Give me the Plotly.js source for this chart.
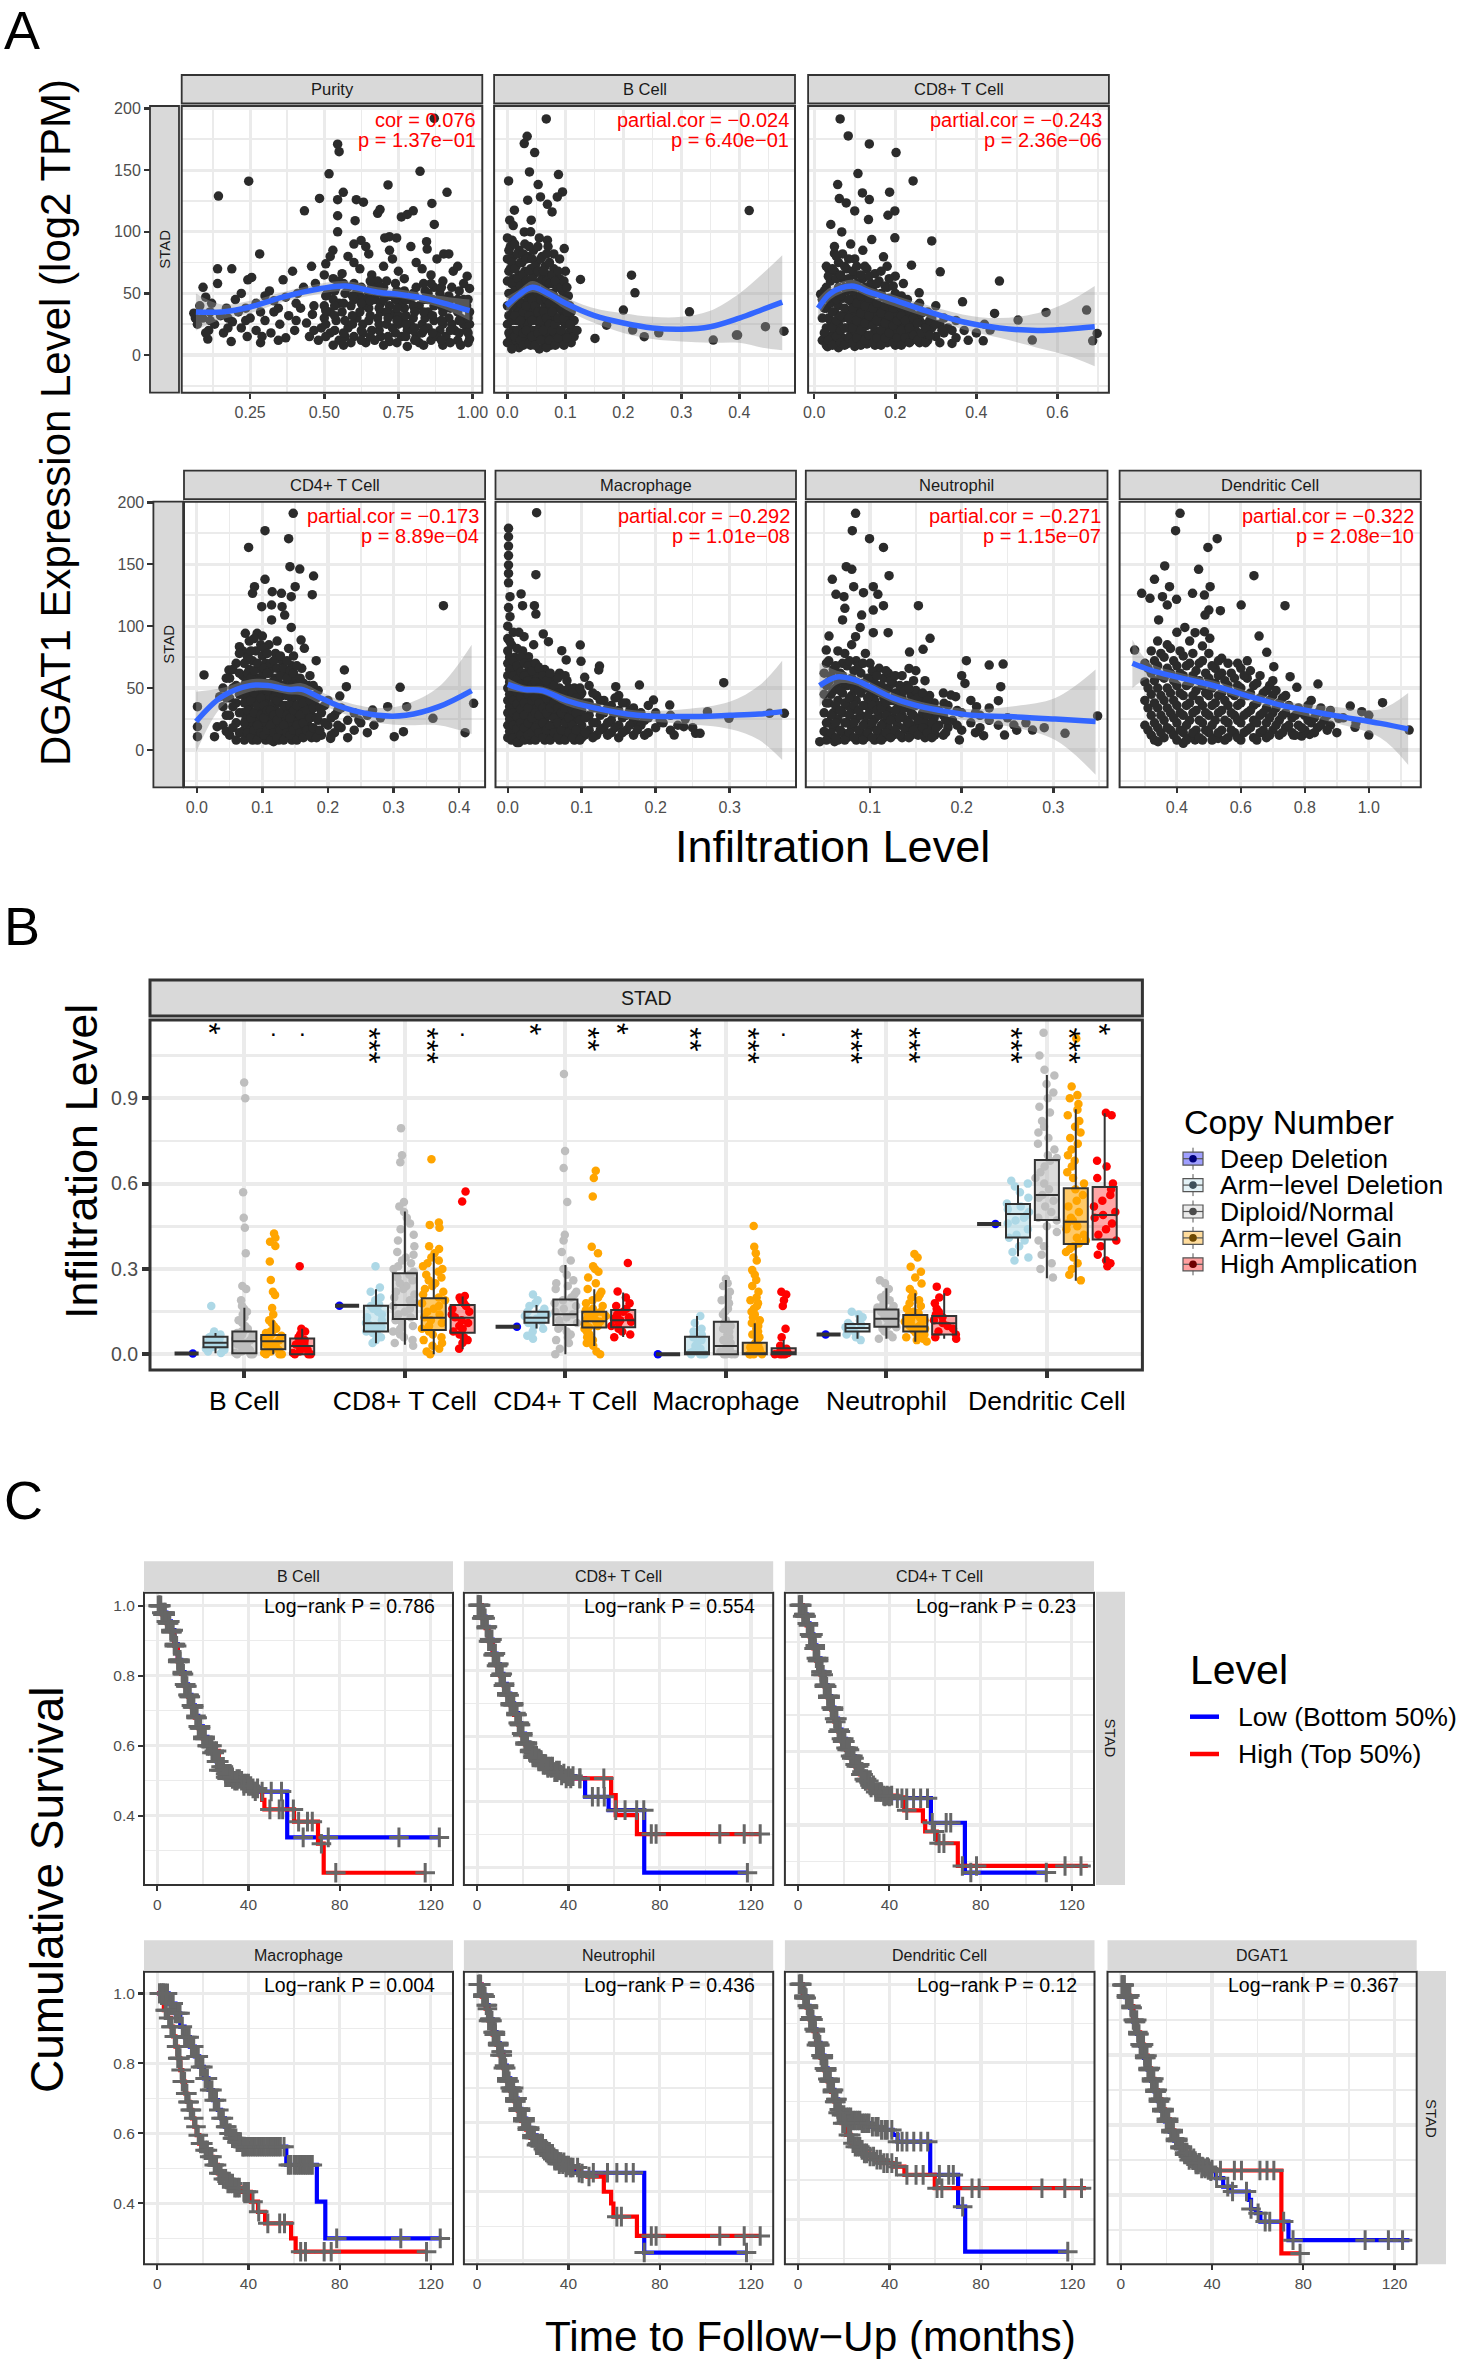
<!DOCTYPE html>
<html>
<head>
<meta charset="utf-8">
<script src="https://cdn.plot.ly/plotly-3.0.1.min.js"></script>
<style>html,body{margin:0;padding:0;background:#fff;}#chart{width:1459px;height:2359px;}</style>
</head>
<body>
<div id="chart"></div>
<script>
// ======================= DATA =======================
// ---------- Panel A : DGAT1 expression vs infiltration level (STAD) ----------
const aPanelNames = ['Purity','B Cell','CD8+ T Cell','CD4+ T Cell','Macrophage','Neutrophil','Dendritic Cell'];
const aCorLabels = ['cor = 0.076','partial.cor = −0.024','partial.cor = −0.243','partial.cor = −0.173','partial.cor = −0.292','partial.cor = −0.271','partial.cor = −0.322'];
const aPLabels = ['p = 1.37e−01','p = 6.40e−01','p = 2.36e−06','p = 8.89e−04','p = 1.01e−08','p = 1.15e−07','p = 2.08e−10'];

// points as [infiltration, expression] pairs, and dense columns as [infiltration, [expressions]]
const ptsPurity = [[0.871,192],[0.545,171],[0.55,165],[0.245,141],[0.143,129],[0.516,147],[0.823,149],[0.715,138],[0.914,132],[0.484,127],[0.545,126],[0.564,132],[0.608,126],[0.632,124],[0.433,117],[0.545,113],[0.604,109],[0.68,115],[0.688,118],[0.76,112],[0.78,114],[0.8,117],[0.863,123],[0.871,106],[0.545,100],[0.624,93],[0.64,88],[0.704,95],[0.72,96],[0.744,95],[0.792,88],[0.847,86],[0.903,82],[0.92,82],[0.282,82],[0.457,72],[0.505,74],[0.529,85],[0.52,80],[0.393,68],[0.14,70],[0.188,70],[0.242,61],[0.255,63],[0.091,55],[0.14,58],[0.22,50],[0.315,52],[0.361,61],[0.982,64],[0.99,54],[0.935,68],
[0.58,80],[0.6,75],[0.62,70],[0.65,82],[0.66,65],[0.7,72],[0.73,78],[0.75,68],[0.77,62],[0.81,75],[0.83,70],[0.86,65],[0.88,78],[0.9,60],[0.95,72],[0.97,58],[0.56,66],[0.53,62],[0.68,60],[0.72,85],[0.845,92],[0.6,90],[0.5,65],[0.47,58],[0.43,55],[0.41,50],[0.37,47],[0.33,44],[0.3,48],[0.27,42],[0.2,45],[0.17,38],[0.12,42],[0.1,47],[0.08,40],[0.065,30],
[0.09,30],[0.11,20],[0.107,13],[0.13,25],[0.15,32],[0.16,18],[0.186,11],[0.19,27],[0.21,35],[0.22,22],[0.24,15],[0.25,30],[0.27,20],[0.29,15],[0.3,28],[0.32,18],[0.33,35],[0.35,25],[0.37,14],[0.38,32],[0.4,20],[0.42,38],[0.44,26],[0.45,15],[0.46,33],[0.48,12],[0.49,22],[0.5,40],[0.5,30],
[0.52,18],[0.53,45],[0.54,28],[0.55,12],[0.56,35],[0.57,50],[0.58,22],[0.59,40],[0.6,15],[0.61,30],[0.62,48],[0.63,25],[0.64,10],[0.65,38],[0.66,20],[0.67,45],[0.68,30],[0.69,15],[0.7,55],[0.71,25],[0.72,11],[0.72,40],[0.73,33],[0.74,18],[0.75,48],[0.76,28],[0.77,38],[0.78,7],[0.78,20],[0.79,45],[0.8,30],[0.81,15],[0.82,40],[0.83,25],[0.84,52],[0.85,35],[0.86,12],[0.87,28],[0.88,44],[0.89,20],[0.9,35],[0.91,15],[0.92,48],[0.93,25],[0.94,38],[0.95,12],[0.96,30],[0.96,8],[0.97,45],[0.98,20],[0.99,13],[0.99,35],[0.53,8],[0.57,15],[0.61,52],[0.66,55],[0.74,58],[0.8,50],[0.87,55],[0.92,30],[0.63,40],[0.69,35],[0.76,42],[0.83,18],[0.9,8],[0.58,55],[0.7,8],[0.85,22],[0.06,34],[0.072,25],[0.1,18],
[0.51,50],[0.52,35],[0.54,55],[0.55,42],[0.57,28],[0.59,10],[0.6,58],[0.62,35],[0.63,18],[0.64,45],[0.65,28],[0.67,12],[0.68,50],[0.69,42],[0.71,35],[0.71,60],[0.73,22],[0.74,45],[0.75,32],[0.76,15],[0.77,52],[0.79,25],[0.8,40],[0.81,55],[0.82,10],[0.84,30],[0.85,45],[0.86,58],[0.87,40],[0.88,15],[0.89,50],[0.9,25],[0.91,42],[0.93,55],[0.94,20],[0.95,45],[0.97,25],[0.98,40],[0.99,25],[0.55,60],[0.6,45],[0.65,50],[0.7,45],[0.75,25],[0.8,20],[0.85,50],[0.9,45],[0.95,35]];
const colsPurity = [[0.505,[15,25,36,48]],[0.535,[20,32,40,52]],[0.565,[8,18,42,58]],[0.595,[25,32,48]],[0.625,[12,20,42,55]],[0.655,[15,32,44,60]],[0.685,[20,25,38,55]],[0.715,[15,30,48]],[0.745,[10,28,38,52]],[0.775,[15,25,32,45]],[0.805,[12,22,35,48]],[0.835,[8,20,35,45,58]],[0.865,[18,32,45]],[0.895,[12,28,40,55]],[0.925,[10,20,38,45]],[0.955,[18,28,40,52]],[0.985,[10,18,30,45]],[0.115,[28,35]],[0.175,[22,30]],[0.235,[28,38]],[0.285,[10,35]],[0.345,[12,38]],[0.405,[28,42]],[0.465,[20,40]]];

const ptsBCell = [[0.067,191.5],[0.034,177.4],[0.029,171.5],[0.047,164.2],[0.038,148.5],[0.088,146.4],[0.002,141.2],[0.053,138.3],[0.095,132.3],[0.035,125.6],[0.057,128.3],[0.069,122.3],[0.086,128.3],[0.012,117.5],[0.004,109.4],[0.077,116.1],[0.041,109.4],[0.029,99.9],[0.069,93.2],[0.098,86.4],[0.008,93.2],[0.126,61.3],[0.214,64.8],[0.22,50.5],[0.2,36.5],[0.314,35.1],[0.171,24.3],[0.216,20.3],[0.236,14.9],[0.261,18.1],[0.151,13.5],[0.355,12.2],[0.395,16.2],[0.417,117.2],[0.397,16.2],[0.445,23],[0.477,19.4]];
const colsBCell = [[0.0,[10,25,40,60,78,95]],[0.005,[15,33,50,70,88]],[0.01,[8,20,45,62,80,105]],[0.015,[12,28,38,55,72]],[0.02,[6,18,35,48,65,85]],[0.025,[22,42,58,75]],[0.03,[10,30,52,68,90]],[0.035,[15,25,45,60,80]],[0.04,[8,38,55,70,100]],[0.045,[20,32,48,65,85]],[0.05,[12,28,42,58,75]],[0.055,[5,22,36,52,68,95]],[0.06,[15,30,45,62,80]],[0.065,[10,25,40,55,72]],[0.07,[18,35,50,65,88]],[0.075,[8,28,42,58]],[0.08,[14,32,48,70,82]],[0.085,[20,38,55]],[0.09,[10,28,45,62,78]],[0.095,[16,35,52]],[0.1,[12,25,40,68]],[0.105,[18,30,48]],[0.11,[10,22,35]],[0.115,[15,28]],[0.12,[20]],
[0.0025,[18,32,50,68,85]],[0.0075,[5,28,40,58,75]],[0.0125,[15,32,52,70,90]],[0.0175,[20,45,62,82]],[0.0225,[12,28,42,56,75]],[0.0275,[8,18,35,50,65,82]],[0.0325,[20,40,60,78]],[0.0375,[10,32,50,68,88]],[0.0425,[15,28,45,62,78]],[0.0475,[8,40,55,72]],[0.0525,[18,35,50,68,88]],[0.0575,[12,28,45,60,78]],[0.0625,[20,35,52,68]],[0.0675,[6,30,45,60,82]],[0.0725,[12,25,42,58,75]],[0.0775,[20,35,50,65]],[0.0825,[8,25,42,60]],[0.0875,[14,30,45,68]],[0.0925,[20,38,55]],[0.0975,[8,30,45,60]],[0.1025,[14,35,55]],[0.1075,[25,40]]];

const ptsCD8 = [[0.064,191.5],[0.084,177.7],[0.136,171.2],[0.202,164.2],[0.108,147.2],[0.244,141.2],[0.058,138.3],[0.119,131.5],[0.186,132.1],[0.136,126.1],[0.062,126.9],[0.079,123.4],[0.1,116.9],[0.134,109.9],[0.199,116.9],[0.182,113.4],[0.041,105.9],[0.068,99.9],[0.142,93.7],[0.199,95.1],[0.29,92.6],[0.05,82.4],[0.171,79.7],[0.24,72.9],[0.311,67.5],[0.036,69.4],[0.457,60],[0.016,49.4],[0.259,50.5],[0.366,43.2],[0.445,33.8],[0.572,34.6],[0.672,36.5],[0.698,17.6],[0.687,11.6],[0.538,12.2],[0.417,11.6],[0.34,9.5],[0.033,6.8],[0.503,28.4],[0.434,20.3]];
const colsCD8 = [[0.02,[12,30,45]],[0.03,[8,22,38,55,72]],[0.04,[15,28,42,60]],[0.05,[10,20,35,50,68,88]],[0.06,[6,25,40,55,75]],[0.07,[14,30,46,62,82]],[0.08,[9,22,36,52,70]],[0.09,[16,28,44,58,90]],[0.1,[7,20,34,48,65,78]],[0.11,[12,26,40,55]],[0.12,[18,32,46,62,85]],[0.13,[9,24,38,52,70]],[0.14,[15,30,44,58]],[0.15,[8,20,35,50,66]],[0.16,[13,27,40,60]],[0.17,[18,32,47]],[0.18,[10,24,38,55,72]],[0.19,[15,30,44]],[0.2,[8,20,34,50,64]],[0.21,[14,26,40]],[0.22,[10,22,35,58]],[0.23,[17,30,45]],[0.24,[12,24,38]],[0.25,[20,32]],[0.26,[10,28,42]],[0.27,[16,25]],[0.28,[12,35]],[0.29,[22,30]],[0.3,[15,40]],[0.31,[10,25]],[0.32,[18,30]],[0.33,[22]],[0.35,[14,28]],[0.37,[20]],[0.38,[12]],[0.4,[18]],[0.42,[25]],
[0.025,[18,38,52]],[0.035,[12,30,46,64]],[0.045,[8,22,35,50,70]],[0.055,[15,28,45,62,80]],[0.065,[10,20,32,48,65]],[0.075,[8,22,38,55,72]],[0.085,[14,30,45,62,78]],[0.095,[10,22,38,52,68]],[0.105,[14,28,42,58,72]],[0.115,[8,20,34,48,65]],[0.125,[12,26,40,55,72]],[0.135,[16,32,46,64]],[0.145,[10,24,38,52]],[0.155,[14,28,42,58]],[0.165,[8,20,34,50,68]],[0.175,[14,26,40,56]],[0.185,[18,32,46,62]],[0.195,[10,24,38,56]],[0.205,[14,28,42]],[0.215,[8,20,32,48]],[0.225,[14,28,42]],[0.235,[10,22,36]],[0.245,[16,30]],[0.255,[12,26,40]],[0.265,[18,34]],[0.275,[10,22]],[0.285,[16,28]],[0.3,[25]],[0.315,[20]],[0.34,[20]]];

const ptsCD4 = [[0.147,191.1],[0.104,177.1],[0.14,170.6],[0.079,163.6],[0.142,148],[0.157,146.1],[0.178,140.5],[0.104,137.8],[0.088,131.9],[0.15,131.9],[0.115,127.8],[0.129,126.5],[0.085,126.5],[0.176,125.4],[0.144,123.8],[0.376,116.5],[0.099,115.7],[0.114,117.1],[0.13,115.7],[0.114,105],[0.134,109],[0.144,99],[0.092,94.2],[0.074,94.2],[0.065,83.4],[0.159,88.8],[0.164,82.1],[0.182,72.1],[0.078,75.4],[0.049,64.6],[0.011,60.6],[0.225,64.6],[0.228,51.1],[0.31,50.6],[0.218,43.6],[0.422,37.7],[0.291,35],[0.32,35],[0.001,35],[0.001,18.8],[0.001,10.8],[0.031,18.8],[0.027,10.8],[0.301,10.8],[0.315,14.8],[0.409,14],[0.36,25.6],[0.247,24.2],[0.268,32.3],[0.204,9.4],[0.117,6.7],[0.035,43.1]];
const colsCD4 = [[0.04,[20,35,50]],[0.05,[12,28,42,58]],[0.06,[8,22,38,52,70]],[0.07,[15,30,45,60,80]],[0.075,[10,25,40,55]],[0.08,[18,33,48,65,88]],[0.085,[8,22,38,52,72]],[0.09,[14,28,43,58,80]],[0.095,[10,24,36,50,66]],[0.1,[18,32,46,60,76,92]],[0.105,[8,22,40,54,70]],[0.11,[14,28,44,62,85]],[0.115,[10,24,36,50,66]],[0.12,[18,32,48,58,78]],[0.125,[8,22,38,54]],[0.13,[14,28,44,62,72]],[0.135,[10,24,36,50]],[0.14,[18,32,46,60,82]],[0.145,[8,22,40,54,68]],[0.15,[14,28,44,58]],[0.155,[10,24,36,50]],[0.16,[18,32,46,66]],[0.165,[12,26,40]],[0.17,[20,34,52]],[0.175,[10,28,44]],[0.18,[16,36]],[0.185,[24,48]],[0.19,[12,30]],[0.2,[20,40]],[0.21,[14,28]],[0.22,[18,34]],[0.23,[10,24]],[0.24,[16,30]],[0.25,[22]],[0.26,[14,28]],[0.27,[20]],[0.28,[26]],
[0.045,[15,28,42,58]],[0.055,[18,35,50,65]],[0.065,[14,30,45,62,78]],[0.0725,[8,22,38,52,70]],[0.0775,[14,32,46,62,75]],[0.0825,[10,26,40,58,80]],[0.0875,[16,30,46,64,90]],[0.0925,[8,20,36,52,70]],[0.0975,[14,28,42,56,85]],[0.1025,[12,26,36,50,66,82]],[0.1075,[16,32,48,62,78]],[0.1125,[8,20,32,54,70]],[0.1175,[14,28,42,56,72]],[0.1225,[10,24,40,52,66,88]],[0.1275,[16,30,46,60,76]],[0.1325,[8,20,36,52,66]],[0.1375,[14,28,44,58,72]],[0.1425,[12,26,36,50,64]],[0.1475,[16,32,48,62,76]],[0.1525,[8,20,36,52,68]],[0.1575,[14,28,42,58]],[0.1625,[10,22,38,54]],[0.1675,[16,32,46]],[0.1725,[12,26,40,60]],[0.1775,[18,34,52]],[0.1825,[10,26,42]],[0.1875,[16,34]],[0.195,[22,36]],[0.205,[12,26]],[0.215,[20,32]]];

const ptsMacro = [[0.039,191.6],[0.001,179],[0.001,172.2],[0.001,164.7],[0.001,149.4],[0.001,142.6],[0.038,141.6],[0.018,126],[0.02,116.5],[0.036,116.5],[0.038,109.8],[0.003,123.8],[0.003,107.7],[0.048,93.7],[0.055,87.5],[0.022,91.5],[0.073,80.2],[0.098,84.8],[0.079,72.7],[0.099,71.6],[0.124,67.8],[0.123,64.6],[0.041,67.3],[0.028,75.4],[0.104,58.7],[0.146,51.1],[0.178,52.5],[0.219,36.3],[0.197,40.4],[0.098,44.4],[0.225,12.1],[0.254,13.5],[0.26,13.5],[0.292,54.4],[0.354,29.6],[0.374,29.6],[0.054,12.1],[0.104,12.1],[0.175,21.5],[0.143,29.6],[0.206,24.2],[0.238,18.8],[0.27,31],[0.299,25.6],[0.001,135],[0.001,157],[0.001,115]];
const colsMacro = [[0.0,[10,20,30,40,50,60,70,80,90,100]],[0.005,[8,15,25,35,45,55,65,85]],[0.01,[12,22,32,42,52,62,75]],[0.015,[6,18,28,38,48,58,68,95]],[0.02,[10,24,34,44,54,80]],[0.025,[15,28,40,50,62]],[0.03,[8,20,32,46,58,70]],[0.035,[14,26,38,52,85]],[0.04,[10,22,34,44,60]],[0.045,[18,30,42,55]],[0.05,[8,24,36,48,65]],[0.055,[14,28,40,52]],[0.06,[10,20,34,46,58]],[0.065,[16,30,42]],[0.07,[8,24,36,50,62]],[0.075,[14,28,40]],[0.08,[10,20,34,46,56]],[0.085,[16,30,42]],[0.09,[8,24,36,50]],[0.095,[14,28,40]],[0.1,[10,20,32,46]],[0.11,[16,28,38,52]],[0.12,[12,22,34,44]],[0.13,[18,30,40]],[0.14,[14,24,36]],[0.15,[10,20,32,44]],[0.16,[16,28,38]],[0.17,[12,24,34]],[0.18,[20,30]],[0.19,[14,26,36]],[0.2,[18,30]],[0.21,[22]],[0.22,[16,28]],[0.23,[20]],[0.24,[25]],[0.25,[18]],
[0.0025,[15,25,35,45,55,65,75,88]],[0.0075,[10,20,30,40,50,60,72,95]],[0.0125,[6,17,27,37,47,57,68,82]],[0.0175,[12,22,33,43,53,63,75]],[0.0225,[8,18,28,38,48,60,70]],[0.0275,[12,22,34,45,56,68]],[0.0325,[14,26,40,52,64]],[0.0375,[8,18,30,42,55,70]],[0.0425,[14,28,38,50,66]],[0.0475,[10,22,34,46,60]],[0.0525,[16,30,42,56]],[0.0575,[8,20,34,46,62]],[0.0625,[14,26,38,52]],[0.0675,[10,22,34,46,58]],[0.0725,[16,30,42]],[0.0775,[8,22,34,48,60]],[0.0825,[14,26,38,50]],[0.0875,[10,20,32,46]],[0.0925,[16,30,42]],[0.0975,[8,24,36,50]],[0.105,[14,26,38]],[0.115,[10,22,34,46]],[0.125,[16,28,40]],[0.135,[12,22,34]],[0.145,[18,30,42]],[0.155,[14,26,38]],[0.165,[20,32]],[0.175,[16,28]],[0.185,[12,24]]];

const ptsNeut = [[0.0843,191.1],[0.0807,177.1],[0.0995,170.6],[0.1147,163.6],[0.0741,148],[0.0802,145.9],[0.1208,140.8],[0.0589,137.8],[0.0822,131.9],[0.1036,131.9],[0.0929,127],[0.1086,125.7],[0.0629,125.7],[0.0716,123.8],[0.1528,116.5],[0.1147,116.5],[0.0726,114.4],[0.0909,109],[0.1036,113],[0.0701,105],[0.0893,99],[0.0553,92],[0.1036,94.7],[0.1198,94.7],[0.1655,90.2],[0.0843,91.5],[0.1431,79.1],[0.1579,81.3],[0.0523,80.7],[0.2051,72.1],[0.23,68.6],[0.2452,69.4],[0.1426,65.9],[0.2036,53.8],[0.2426,51.1],[0.1883,44.4],[0.1934,43.1],[0.24,39.8],[0.3482,27.5],[0.3127,13.5],[0.2772,16.1],[0.2569,20.2],[0.2467,12.1],[0.2239,11.6],[0.1975,8.1],[0.0452,6.7],[0.0614,6.7],[0.1706,12.1],[0.1579,12.1],[0.2162,35],[0.1807,37.7]];
const colsNeut = [[0.05,[15,30,45,62]],[0.055,[10,22,38,55,72]],[0.06,[18,30,48,65]],[0.065,[8,25,40,55,80]],[0.07,[14,30,46,60,70]],[0.075,[10,22,36,52,68]],[0.08,[18,32,44,58,85]],[0.085,[8,25,40,55,72]],[0.09,[14,28,46,62]],[0.095,[10,22,36,50,78]],[0.1,[18,32,44,58,70]],[0.105,[8,25,40,54]],[0.11,[14,28,36,48,66]],[0.115,[10,22,42,58]],[0.12,[18,32,50,62]],[0.125,[12,26,40,54]],[0.13,[20,34,46]],[0.135,[10,28,42,60]],[0.14,[16,24,38,52]],[0.145,[12,30,44]],[0.15,[20,36,48,64]],[0.155,[14,26,40]],[0.16,[10,22,34,56]],[0.165,[18,30,44]],[0.17,[14,26,38]],[0.175,[20,32]],[0.18,[12,28,46]],[0.185,[18,36]],[0.19,[24]],[0.2,[16,30,60]],[0.21,[22,40]],[0.22,[18,28]],[0.23,[24,34]],[0.24,[20]],[0.25,[26]],[0.26,[16]],[0.27,[22]],[0.29,[18]],
[0.0525,[8,22,38,52,70]],[0.0575,[14,28,45,60]],[0.0625,[10,22,36,50,68]],[0.0675,[16,32,48,62]],[0.0725,[8,22,38,54,78]],[0.0775,[14,28,42,56,72]],[0.0825,[10,22,36,50,64]],[0.0875,[16,32,48,68]],[0.0925,[8,20,36,54,70]],[0.0975,[14,28,42,58]],[0.1025,[10,22,36,50,64]],[0.1075,[16,32,46,60]],[0.1125,[8,20,34,52]],[0.1175,[14,28,38,48,64]],[0.1225,[10,24,40,56]],[0.1275,[16,32,46,60]],[0.1325,[12,26,38,52]],[0.1375,[18,34,48]],[0.1425,[10,22,36,50]],[0.1475,[16,28,40,56]],[0.1525,[12,24,42]],[0.1575,[18,30,46]],[0.1625,[14,28,40]],[0.1675,[10,22,34]],[0.1725,[18,30]],[0.1825,[14,24]],[0.195,[20,32]],[0.215,[14,30]]];

const ptsDend = [[0.41,191.1],[0.396,177.1],[0.526,170.6],[0.497,163.6],[0.362,148.6],[0.468,145.9],[0.641,140.8],[0.33,137.8],[0.377,131.9],[0.504,131.9],[0.29,126.5],[0.316,122.5],[0.355,123.8],[0.449,126.5],[0.486,125.1],[0.399,121.7],[0.601,117.1],[0.738,116.5],[0.37,117.1],[0.5,113],[0.536,112.5],[0.488,109],[0.343,105],[0.425,99],[0.457,94.7],[0.486,95.5],[0.657,92],[0.503,90.2],[0.268,80.7],[0.681,78.9],[0.703,67.3],[0.754,59.2],[0.775,50.6],[0.841,53.3],[0.942,35.5],[1.043,38.2],[0.978,31],[0.906,25.6],[0.957,18.3],[1.0,12.1],[1.126,16.1],[0.764,12.1],[0.79,11.3],[0.815,12.6],[0.341,6.7],[0.42,5.4],[0.457,8.1],[0.529,9.4]];
const colsDend = [[0.3,[20,40,55,70]],[0.32,[12,28,45,62,80]],[0.34,[18,34,50,68,88]],[0.36,[10,24,40,58,75]],[0.38,[16,30,46,62,82]],[0.4,[8,22,36,52,68,95]],[0.42,[14,28,44,60,76]],[0.44,[10,24,38,54,70,88]],[0.46,[16,32,48,64]],[0.48,[8,22,36,52,72,84]],[0.5,[14,28,44,58,78]],[0.52,[10,24,38,54,66]],[0.54,[16,32,46,62,74]],[0.56,[10,22,36,52,70]],[0.58,[14,28,44,58]],[0.6,[8,22,38,50,66]],[0.62,[16,30,44,58,72]],[0.64,[10,24,36,52]],[0.66,[14,28,42,60]],[0.68,[10,22,34,48]],[0.7,[16,30,44,56]],[0.72,[12,24,38]],[0.74,[18,30,44]],[0.76,[14,26]],[0.78,[20,34]],[0.8,[16,28]],[0.82,[22,40]],[0.84,[18,30]],[0.86,[24]],[0.88,[20,32]],[0.9,[14]],[0.92,[26]],[0.96,[22]],[1.0,[28]],
[0.31,[16,34,50,66]],[0.33,[8,22,38,56,72]],[0.35,[14,28,44,60,78]],[0.37,[18,34,50,66,85]],[0.39,[12,26,40,56,72]],[0.41,[16,30,46,62,80]],[0.43,[8,20,36,52,68]],[0.45,[14,30,44,60,78]],[0.47,[10,24,40,56,70]],[0.49,[16,30,46,62]],[0.51,[8,20,36,50,68]],[0.53,[14,30,44,60,72]],[0.55,[8,24,40,56]],[0.57,[16,30,46,62]],[0.59,[10,24,36,52,70]],[0.61,[14,28,44,60]],[0.63,[18,32,46,64]],[0.65,[8,22,38,54]],[0.67,[16,30,46]],[0.69,[12,26,40,52]],[0.71,[20,34,48]],[0.73,[14,28,42]],[0.75,[20,36]],[0.77,[12,28]],[0.79,[18,30]],[0.81,[24,36]],[0.83,[14,26]],[0.85,[20,34]],[0.87,[16,28]]];

// loess fits: x, fit, lower CI, upper CI
const smPurityX = [0.067,0.154,0.25,0.36,0.49,0.57,0.68,0.76,0.84,0.92,0.99];
const smPurityY = [35,35,39,47,54,56,51,49,46,41,36];
const smPurityLo = [20,29,34,43,50,52,48,46,42,36,28];
const smPurityHi = [50,41,44,51,58,60,55,53,50,47,45];
const smBCellX = [-0.002,0.02,0.043,0.07,0.1,0.15,0.2,0.25,0.3,0.35,0.4,0.44,0.474];
const smBCellY = [40,49,55,50,42,32,26,22,21,23,30,37,43];
const smBCellLo = [34,45,51,46,37,26,18,13,11,10,10,6,4];
const smBCellHi = [47,53,60,54,47,38,34,31,31,36,50,66,81];
const smCD8X = [0.01,0.04,0.093,0.136,0.194,0.274,0.366,0.457,0.55,0.62,0.692];
const smCD8Y = [38,50,56,51,45,36,27,22,20,21,23];
const smCD8Lo = [30,45,52,47,40,31,21,14,6,0,-9];
const smCD8Hi = [46,55,61,55,49,41,33,30,34,42,56];
const smCD4X = [-0.001,0.038,0.081,0.11,0.139,0.16,0.189,0.225,0.276,0.319,0.369,0.419];
const smCD4Y = [23,43,52,52,49,49,42,34,28,28,35,48];
const smCD4Lo = [-2,35,47,48,45,44,37,29,22,20,20,13];
const smCD4Hi = [47,50,57,57,53,54,47,39,34,37,51,85];
const smMacroX = [0.0,0.022,0.047,0.079,0.117,0.175,0.238,0.3,0.34,0.371];
const smMacroY = [53,49,48,40,34,28,27,28,29,31];
const smMacroLo = [48,46,45,36,30,24,21,17,8,-8];
const smMacroHi = [58,52,51,44,38,32,33,39,52,72];
const smNeutX = [0.045,0.064,0.082,0.1,0.125,0.15,0.176,0.211,0.252,0.302,0.346];
const smNeutY = [52,59,57,51,42,36,32,28,27,25,23];
const smNeutLo = [35,53,53,47,38,32,28,23,19,8,-20];
const smNeutHi = [70,64,61,55,46,40,36,33,35,42,65];
const smDendX = [0.261,0.312,0.399,0.529,0.63,0.746,0.891,1.036,1.123];
const smDendY = [70,65,59,51,43,35,28,21.5,17];
const smDendLo = [50,58,54,47,39,31,22,10,-12];
const smDendHi = [89,71,63,55,47,39,35,33,46];

// ---------- Panel B : infiltration level by DGAT1 copy number ----------
const cnCats = ['B Cell','CD8+ T Cell','CD4+ T Cell','Macrophage','Neutrophil','Dendritic Cell'];
const cnGroups = ['Deep Deletion','Arm−level Deletion','Diploid/Normal','Arm−level Gain','High Amplication'];
// box statistics per category (B, CD8, CD4, Macro, Neut, Dend)
const deepMed = [0.003,0.171,0.097,0.0,0.07,0.458];
const armDelQ1 = [0.025,0.080,0.111,0.0,0.080,0.411];
const armDelMed = [0.041,0.109,0.129,0.007,0.093,0.493];
const armDelQ3 = [0.062,0.171,0.150,0.062,0.107,0.528];
const armDelLo = [0.004,0.039,0.091,0.0,0.055,0.345];
const armDelHi = [0.075,0.229,0.173,0.135,0.137,0.594];
const dipQ1 = [0.004,0.124,0.103,0.0,0.097,0.472];
const dipMed = [0.046,0.173,0.141,0.029,0.125,0.560];
const dipQ3 = [0.080,0.285,0.193,0.115,0.158,0.683];
const dipLo = [0.0,0.034,0.0,0.0,0.055,0.267];
const dipHi = [0.164,0.502,0.314,0.261,0.232,0.982];
const gainQ1 = [0.018,0.086,0.094,0.0,0.080,0.388];
const gainMed = [0.046,0.129,0.116,0.004,0.098,0.466];
const gainQ3 = [0.068,0.197,0.150,0.041,0.138,0.584];
const gainLo = [0.0,0.0,0.029,0.0,0.044,0.259];
const gainHi = [0.120,0.355,0.229,0.109,0.215,0.861];
const ampQ1 = [0.0,0.076,0.095,0.0,0.070,0.404];
const ampMed = [0.029,0.129,0.120,0.007,0.109,0.490];
const ampQ3 = [0.056,0.173,0.156,0.021,0.135,0.588];
const ampLo = [0.0,0.018,0.061,0.0,0.055,0.322];
const ampHi = [0.090,0.203,0.217,0.05,0.215,0.847];
// sample points per category
const deepPts = [[0.003],[0.171],[0.097],[0.0],[0.07],[0.458]];
const armDelPts = [
 [0.17,0.08,0.07,0.065,0.06,0.055,0.05,0.045,0.04,0.04,0.035,0.03,0.03,0.025,0.02,0.015,0.01,0.005],
 [0.31,0.235,0.22,0.2,0.19,0.175,0.17,0.16,0.15,0.14,0.13,0.12,0.11,0.105,0.1,0.095,0.09,0.085,0.08,0.075,0.07,0.06,0.05,0.04],
 [0.21,0.19,0.18,0.17,0.16,0.15,0.145,0.14,0.135,0.13,0.125,0.12,0.115,0.11,0.1,0.09,0.08,0.065,0.055],
 [0.135,0.11,0.09,0.08,0.07,0.06,0.05,0.04,0.03,0.02,0.01,0.005,0.0,0.0,0.0,0.0],
 [0.15,0.14,0.13,0.12,0.11,0.105,0.1,0.095,0.09,0.085,0.08,0.075,0.07,0.06,0.05],
 [0.61,0.6,0.59,0.57,0.55,0.53,0.52,0.51,0.5,0.49,0.48,0.47,0.46,0.44,0.42,0.41,0.4,0.38,0.36,0.34,0.33]];
const dipPts = [
 [0.955,0.9,0.57,0.48,0.445,0.355,0.24,0.23,0.19,0.17,0.16,0.15,0.14,0.13,0.12,0.11,0.1,0.09,0.085,0.08,0.075,0.07,0.065,0.06,0.055,0.05,0.045,0.04,0.035,0.03,0.025,0.02,0.015,0.01,0.005,0.0,0.0,0.0],
 [0.795,0.7,0.675,0.535,0.52,0.5,0.48,0.46,0.44,0.42,0.4,0.38,0.36,0.35,0.34,0.33,0.32,0.31,0.3,0.29,0.28,0.27,0.26,0.25,0.24,0.23,0.22,0.21,0.2,0.19,0.18,0.17,0.16,0.15,0.14,0.13,0.12,0.11,0.1,0.09,0.08,0.07,0.06,0.05,0.04,0.03],
 [0.985,0.715,0.655,0.535,0.42,0.4,0.36,0.33,0.3,0.28,0.26,0.25,0.24,0.23,0.22,0.21,0.2,0.19,0.18,0.17,0.16,0.15,0.14,0.13,0.12,0.11,0.1,0.09,0.08,0.07,0.06,0.05,0.04,0.02,0.0],
 [0.265,0.25,0.24,0.22,0.2,0.19,0.18,0.16,0.15,0.14,0.12,0.11,0.1,0.09,0.08,0.07,0.06,0.05,0.04,0.03,0.025,0.02,0.015,0.01,0.005,0.0,0.0,0.0,0.0],
 [0.26,0.25,0.23,0.21,0.2,0.19,0.18,0.17,0.165,0.16,0.155,0.15,0.145,0.14,0.135,0.13,0.125,0.12,0.115,0.11,0.105,0.1,0.095,0.09,0.08,0.07,0.06,0.055],
 [1.13,1.05,1.0,0.98,0.95,0.92,0.9,0.87,0.85,0.82,0.8,0.78,0.76,0.74,0.72,0.7,0.69,0.68,0.66,0.64,0.62,0.6,0.58,0.56,0.55,0.54,0.52,0.5,0.48,0.47,0.45,0.43,0.4,0.38,0.35,0.32,0.3,0.27]];
const gainPts = [
 [0.425,0.41,0.396,0.381,0.326,0.261,0.22,0.209,0.163,0.14,0.12,0.11,0.1,0.09,0.085,0.08,0.075,0.07,0.065,0.06,0.055,0.05,0.045,0.04,0.035,0.03,0.025,0.02,0.015,0.01,0.005,0.0,0.0,0.0],
 [0.686,0.463,0.455,0.445,0.38,0.37,0.355,0.34,0.33,0.32,0.31,0.3,0.29,0.28,0.27,0.26,0.25,0.24,0.23,0.22,0.21,0.2,0.19,0.18,0.17,0.16,0.15,0.14,0.13,0.12,0.11,0.1,0.09,0.08,0.07,0.06,0.05,0.04,0.03,0.02,0.01,0.0],
 [0.645,0.62,0.555,0.378,0.355,0.31,0.3,0.29,0.27,0.25,0.23,0.22,0.21,0.2,0.19,0.18,0.17,0.16,0.155,0.15,0.145,0.14,0.135,0.13,0.125,0.12,0.115,0.11,0.105,0.1,0.095,0.09,0.08,0.07,0.06,0.05,0.04,0.03,0.01,0.0],
 [0.451,0.378,0.355,0.33,0.296,0.28,0.261,0.24,0.22,0.2,0.19,0.18,0.17,0.16,0.15,0.14,0.13,0.12,0.11,0.1,0.09,0.08,0.07,0.06,0.05,0.04,0.035,0.03,0.025,0.02,0.015,0.01,0.005,0.0,0.0,0.0,0.0],
 [0.353,0.34,0.308,0.29,0.27,0.249,0.23,0.215,0.2,0.19,0.18,0.17,0.16,0.15,0.145,0.14,0.135,0.13,0.125,0.12,0.115,0.11,0.105,0.1,0.095,0.09,0.085,0.08,0.075,0.07,0.065,0.06,0.055,0.05,0.045],
 [1.11,0.941,0.911,0.9,0.88,0.86,0.84,0.82,0.8,0.78,0.76,0.74,0.72,0.7,0.68,0.66,0.64,0.62,0.6,0.58,0.56,0.54,0.52,0.5,0.48,0.47,0.46,0.45,0.44,0.42,0.41,0.4,0.39,0.38,0.37,0.36,0.34,0.32,0.3,0.28,0.26]];
const ampPts = [
 [0.31,0.09,0.08,0.07,0.06,0.05,0.045,0.04,0.035,0.03,0.025,0.02,0.015,0.01,0.005,0.0,0.0,0.0],
 [0.572,0.537,0.205,0.2,0.19,0.18,0.17,0.16,0.15,0.14,0.13,0.12,0.11,0.1,0.09,0.08,0.07,0.06,0.05,0.04,0.02],
 [0.321,0.221,0.2,0.18,0.17,0.16,0.15,0.14,0.13,0.125,0.12,0.115,0.11,0.1,0.09,0.08,0.07,0.06],
 [0.22,0.21,0.19,0.17,0.09,0.06,0.03,0.02,0.015,0.01,0.005,0.0,0.0,0.0,0.0],
 [0.238,0.22,0.2,0.18,0.16,0.15,0.14,0.13,0.12,0.11,0.1,0.09,0.08,0.07,0.06,0.055],
 [0.849,0.84,0.68,0.66,0.62,0.6,0.58,0.56,0.54,0.52,0.5,0.49,0.48,0.46,0.44,0.42,0.4,0.38,0.35,0.33,0.32,0.31]];
// significance labels vs Diploid/Normal
const armDelSig = ['*','***','*','**','***','***'];
const gainSig = ['.','***','**','***','***','***'];
const ampSig = ['.','.','*','.','','*'];

// ---------- Panel C : Kaplan-Meier curves (time in months, survival) ----------
const kmNames = ['B Cell','CD8+ T Cell','CD4+ T Cell','Macrophage','Neutrophil','Dendritic Cell','DGAT1'];
const kmPLabels = ['0.786','0.554','0.23','0.004','0.436','0.12','0.367'];
const kmBcLowT = [0,2,4,6,7.5,9,10.5,12,13.5,15,16.5,18,20,22,24,26,28,30,33,37,41,45,57,124];
const kmBcLowS = [1.0,0.98,0.955,0.93,0.89,0.845,0.81,0.775,0.745,0.715,0.685,0.655,0.625,0.6,0.58,0.555,0.54,0.52,0.505,0.492,0.478,0.469,0.338,0.338];
const kmBcHighT = [0,2,4,6,7.5,9,10.5,12,13.5,15,16.5,18,20,22,25,27,30,34,38,42,46,47,60,70.5,73,118];
const kmBcHighS = [1.0,0.975,0.95,0.925,0.885,0.84,0.805,0.77,0.74,0.71,0.68,0.65,0.62,0.6,0.585,0.53,0.51,0.5,0.485,0.47,0.445,0.418,0.383,0.32,0.237,0.237];
const kmBcLowCens = [0.5,1,1.5,2,3,3.5,4,5,5.5,6,7,7.5,8,9,9.5,10,11,12,12.5,13.5,14,15,15.5,16,17,18,19,20,21,22,23,24,25,26,27,28,29,30,31,32,33,35,36,38,39,40,42,44,46,50,54.5,64,75,106,123.7];
const kmBcHighCens = [0.5,1,1.5,2.5,3,3.5,4.5,5,6,6.5,7.5,8.5,9,10,11,11.5,12.5,13,14,14.5,15.5,16,17,17.5,18.5,19,20,21,22,23,24,25,26,27,28,29,30,31,32,33,34,35,37,38,40,41,43,49.4,53.5,55,59.7,62,65.9,68,72,78.3,117.5];
const kmCd8LowT = [0,2,3.7,5,6.8,8.5,10,11.5,13,14.5,16.2,18,19.3,21,22.4,24.5,26.5,28.5,30.7,33.5,36.9,40,43,47.3,57.6,73.2,118.4];
const kmCd8LowS = [1,0.965,0.934,0.895,0.852,0.82,0.79,0.76,0.73,0.70,0.67,0.64,0.608,0.58,0.557,0.54,0.527,0.515,0.507,0.495,0.486,0.478,0.471,0.415,0.374,0.183,0.183];
const kmCd8HighT = [0,2,3.7,5,6.8,8.5,10,11.5,13,14.5,16.2,18,19.3,21,22.4,24.5,26.5,28.5,30.7,33.5,36.9,39,58.7,60.7,70,124];
const kmCd8HighS = [1,0.96,0.93,0.89,0.848,0.815,0.785,0.755,0.725,0.695,0.665,0.635,0.603,0.575,0.552,0.535,0.523,0.512,0.503,0.49,0.48,0.471,0.42,0.359,0.301,0.301];
const kmCd8LowCens = [0.5,1,1.5,2.5,3,4,4.5,5.5,6,6.5,7.5,8,9,9.5,10.5,11,12,13,13.5,14.5,15,16,17,18,18.5,19.5,20,21,22,23,23.5,24.5,25,26,27,28,29,30,31,32,33,34.8,36,38,40,42,45,50.5,53,55.7,60.7,64.8,69.9,73,118.4];
const kmCd8HighCens = [0.5,1,2,2.5,3.5,4,5,5.5,6,7,7.5,8.5,9,10,10.5,11.5,12,13,14,14.5,15.5,16,17,17.5,18.5,19,20,21,22,23,24,24.5,25.5,26,27,28,29,30,31,32.5,34,35,37,39,41,45,55.5,76.3,78.4,106.3,117,124];
const kmCd4LowT = [0,2,3.7,5,6.7,8,9.8,11.5,12.9,14.5,15.9,17.5,19,21,23,25,27.1,29,31.2,34,37.3,41.4,58.2,73.1,108.8];
const kmCd4LowS = [1,0.975,0.95,0.92,0.89,0.855,0.818,0.782,0.752,0.72,0.69,0.66,0.635,0.61,0.588,0.565,0.545,0.525,0.508,0.49,0.478,0.473,0.406,0.27,0.27];
const kmCd4HighT = [0,2,3.7,5,6.7,8,9.8,11.5,12.9,14.5,15.9,17.5,19,21,23,25,27.1,29,31.2,34,37.3,43.5,46.5,54.7,55.7,60.8,70,127];
const kmCd4HighS = [1,0.97,0.945,0.915,0.882,0.848,0.81,0.778,0.748,0.715,0.682,0.655,0.628,0.605,0.582,0.56,0.538,0.52,0.502,0.49,0.48,0.475,0.44,0.41,0.382,0.35,0.288,0.288];
const kmCd4LowCens = [0.5,1,1.5,2.5,3,4,4.5,5,6,6.5,7.5,8,9,10,10.5,11.5,12,13,14,14.5,15.5,16,17,18,19,20,21,22,23,24,25,26,27,28,29,30,31.5,33,35,36.5,38,40,43.5,45.5,47.6,50.6,53.7,56.7,58.8,64.9,66.9,75.7,108.8];
const kmCd4HighCens = [1,1.5,2,3,3.5,4.5,5.5,6,7,7.5,8.5,9,10,11,11.5,12.5,13,14,15,15.5,16.5,17.5,18.5,19.5,20.5,21.5,22.5,23.5,24.5,25.5,26.5,27.5,28.5,29.5,31,32,34,36,37.5,39,41,47.6,59.8,61.8,63.9,72,78.2,117,124];
const kmMacLowT = [0,5,8,10.1,12,14.3,16.5,18.4,20.5,22.5,24.5,26.6,28,29.7,31,32.8,35,37,56.6,70,73.7,124.7];
const kmMacLowS = [1,0.971,0.943,0.905,0.875,0.848,0.82,0.79,0.757,0.724,0.695,0.667,0.643,0.619,0.6,0.586,0.575,0.562,0.51,0.405,0.3,0.3];
const kmMacHighT = [0,2.9,4.5,6,7,8,9,10.1,11,12.2,13.2,14.3,15.3,16.3,17.3,18.4,20.5,22.5,24.5,26.6,28.7,30.8,34,37,41.1,44.2,47.3,58.7,60.7,118.5];
const kmMacHighS = [1,0.952,0.93,0.905,0.877,0.848,0.815,0.781,0.748,0.714,0.69,0.667,0.643,0.619,0.595,0.571,0.552,0.533,0.51,0.486,0.47,0.457,0.445,0.433,0.405,0.376,0.343,0.3,0.262,0.262];
const kmMacLowCens = [1,2,3,3.5,4.5,5.5,6,7,8,9,10,11,12,13,14,15,16,17,18,19,20,21,22,23,24,25,26,27,28,29,30,30.5,31.5,32,33,33.5,34.5,35,36,36.5,37.5,38,39,40,41,42,43,44,45,46,47,48,49,50,51,52,53,54,55.6,57.5,58.5,60,61,62,63,64,65,66,67,68,78.7,106.8,124.1];
const kmMacHighCens = [1,2,2.5,3.5,4,5,6,6.5,7.5,8.5,9,9.5,10,10.5,11,11.5,12,12.5,13,13.5,14,14.5,15,16,17,18,19,20,21,22,23,24,25,26,27,28,29,30,31,32,33,34,35,36,38,39,40,42,44.5,48.5,53.7,55.8,62.9,65,73.2,76.3,118.1];
const kmNeuLowT = [0,2,3.7,5,6.8,8.5,9.9,11.5,13,14.5,16.2,17.8,19.3,21.5,23.4,26,28.6,31,33.8,36,39,41,43.1,73.2,118];
const kmNeuLowS = [1,0.97,0.94,0.9,0.862,0.83,0.805,0.765,0.728,0.7,0.67,0.64,0.612,0.585,0.563,0.54,0.524,0.51,0.495,0.485,0.476,0.47,0.455,0.224,0.224];
const kmNeuHighT = [0,2,3.7,5,6.8,8.5,9.9,11.5,13,14.5,16.2,17.8,19.3,21.5,23.4,26,28.6,31,33.8,36,39,45,48.3,55.5,58.7,59.7,70,124];
const kmNeuHighS = [1,0.965,0.93,0.895,0.855,0.825,0.795,0.758,0.72,0.692,0.662,0.635,0.605,0.58,0.556,0.535,0.519,0.505,0.49,0.48,0.47,0.453,0.444,0.4,0.366,0.328,0.272,0.272];
const kmNeuLowCens = [0.5,1,1.5,2.5,3,4,4.5,5.5,6,7,7.5,8,9,9.5,10.5,11,12,13,13.5,14.5,15,16,16.5,17.5,18,19,20,21,22,23,24,25,26.5,28,29,30,31,32,33,34,35,36.5,38,39,40,41,42,44.7,50.9,57.1,61.2,65.3,68.4,73.2,118];
const kmNeuHighCens = [1,1.5,2.5,3,3.5,4.5,5,6,6.5,7.5,8,9,9.5,10,11,11.5,12.5,13,14,15,15.5,16.5,17,18,19,20,21,22,23,24,25,26,27,28,29.5,30.5,31.5,33,34,35,36,37.5,39,41,44,46,49,61.2,63.2,76.3,78.4,106.3,117,124];
const kmDenLowT = [0,2,3.7,5,6.7,8,9.8,11.5,12.9,14.5,15.9,17.5,19,21,23.1,27.1,31.2,35.3,41.4,43.5,57.8,70,73.1,118];
const kmDenLowS = [1,0.97,0.945,0.915,0.885,0.85,0.818,0.785,0.758,0.73,0.706,0.68,0.666,0.66,0.652,0.645,0.636,0.628,0.615,0.598,0.513,0.432,0.317,0.317];
const kmDenHighT = [0,2,3.7,5,6.7,8,9.8,11.5,12.9,14.5,15.9,17.5,19,21,23.1,25,27.1,29,31.2,34,37.3,41.4,46.5,59.8,126];
const kmDenHighS = [1,0.965,0.94,0.91,0.88,0.845,0.812,0.78,0.752,0.725,0.7,0.672,0.645,0.615,0.594,0.585,0.577,0.568,0.56,0.552,0.543,0.534,0.513,0.479,0.479];
const kmDenLowCens = [0.5,1,1.5,2.5,3,4,4.5,5.5,6,7,7.5,8.5,9,10,11,11.5,12.5,13,14,15,15.5,16.5,17,18,19,20,21,22,23,24,25,26,27,28,29,30,31,32.5,34,35,36.5,38,39,41,43.5,45.5,47.6,50.6,53.7,56.7,61.8,65.9,67.9,72,118];
const kmDenHighCens = [1,1.5,2.5,3,3.5,4.5,5,6,6.5,7.5,8,9,9.5,10.5,11,12,12.5,13.5,14,15,16,16.5,17.5,18.5,19.5,20.5,22,23,24,25,26,27,28,29,30,31.5,33,34.5,36,37.5,39,41,43,47.6,51.6,54.7,60.8,62.9,76.1,79.2,106.7,116.7,124];
const kmDgaLowT = [0,2,4.1,5.5,7.1,8.5,10.2,11.8,13.3,14.8,16.3,17.8,19.4,21.5,23.5,25.5,27.6,30,32.7,35.5,38.8,41.8,44.9,47.5,56.1,57.1,59.2,61.2,73.5,126.5];
const kmDgaLowS = [1,0.965,0.935,0.895,0.86,0.826,0.792,0.758,0.726,0.696,0.668,0.64,0.61,0.58,0.555,0.534,0.516,0.5,0.487,0.476,0.468,0.448,0.424,0.41,0.386,0.36,0.348,0.324,0.271,0.271];
const kmDgaHighT = [0,2,4.1,5.5,7.1,8.5,10.2,11.8,13.3,14.8,16.3,17.8,19.4,21.5,23.5,25.5,27.6,30,32.7,35.5,38.8,41.8,70.4,78.6];
const kmDgaHighS = [1,0.97,0.94,0.9,0.865,0.83,0.798,0.762,0.732,0.7,0.674,0.645,0.617,0.585,0.56,0.538,0.521,0.505,0.492,0.48,0.473,0.47,0.233,0.233];
const kmDgaLowCens = [1,1.5,2.5,3,3.5,4.5,5,6,6.5,7.5,8,9,9.5,10.5,11,12,12.5,13.5,14,15,15.5,16.5,17,18,19,20,21,22,23,24,25,26,27,28,29,30,31.5,33,34,35.5,37,38.5,39.5,42,46.9,49,55.1,57.1,60.2,63.3,65.3,71.4,75.5,107.1,117.3,123.5];
const kmDgaHighCens = [0.5,1,1.5,2.5,3,4,4.5,5.5,6,7,7.5,8.5,9,10,10.5,11.5,12,13,13.5,14.5,15,16,16.5,17.5,18,19,20,21,22,23,24,25,26,27,28,29,30.5,32,33,34.5,36,38,40,43.7,49.8,52.9,61,64.1,67.1,78.6];

// ======================= BUILD =======================
const W = 1459, H = 2359;
const FONT = 'Liberation Sans, Arial, Helvetica, sans-serif';
const X = p => p / W;
const Y = p => 1 - p / H;
const data = [], shapes = [], ann = [];
const layout = {width: W, height: H, margin: {l:0, r:0, t:0, b:0}, paper_bgcolor: '#fff', plot_bgcolor: '#fff',
  showlegend: false, font: {family: FONT, color: '#000'}, boxmode: 'group', boxgap: 0.1, boxgroupgap: 0.167,
  shapes: shapes, annotations: ann};
const sfx = n => (n === 1 ? '' : String(n));
function grid(dt, md, gw, mw) {
  return {showgrid: true, gridcolor: '#ebebeb', gridwidth: gw, dtick: dt, tick0: 0,
    minor: {dtick: md, tick0: 0, showgrid: true, gridcolor: '#ebebeb', gridwidth: mw, ticks: ''}};
}
function rect(x0, y0, x1, y1, fill, lc, lw) {
  shapes.push({type: 'rect', xref: 'paper', yref: 'paper', x0: X(x0), x1: X(x1), y0: Y(y1), y1: Y(y0),
    fillcolor: fill, line: {color: lc, width: lw}, layer: 'above'});
}
function line(x0, y0, x1, y1, color, w) {
  shapes.push({type: 'line', xref: 'paper', yref: 'paper', x0: X(x0), x1: X(x1), y0: Y(y0), y1: Y(y1), line: {color: color, width: w}, layer: 'above'});
}
function circle(cx, cy, r, color) {
  shapes.push({type: 'circle', xref: 'paper', yref: 'paper', x0: X(cx - r), x1: X(cx + r), y0: Y(cy + r), y1: Y(cy - r), fillcolor: color, line: {width: 0}, layer: 'above'});
}
function text(x, y, t, size, opt) {
  const o = opt || {};
  ann.push({xref: 'paper', yref: 'paper', x: X(x), y: Y(y), text: t, showarrow: false,
    font: {family: FONT, size: size, color: o.color || '#000'}, xanchor: o.xa || 'center', yanchor: o.ya || 'middle',
    textangle: o.angle || 0});
}
function expand(pairs, cols) {
  const xs = [], ys = [];
  pairs.forEach(p => { xs.push(p[0]); ys.push(p[1]); });
  cols.forEach(c => c[1].forEach(v => { xs.push(c[0]); ys.push(v); }));
  return {x: xs, y: ys};
}

// ---------- Panel A ----------
const aSets = [
  {p: ptsPurity, c: colsPurity, sx: smPurityX, sy: smPurityY, lo: smPurityLo, hi: smPurityHi},
  {p: ptsBCell, c: colsBCell, sx: smBCellX, sy: smBCellY, lo: smBCellLo, hi: smBCellHi},
  {p: ptsCD8, c: colsCD8, sx: smCD8X, sy: smCD8Y, lo: smCD8Lo, hi: smCD8Hi},
  {p: ptsCD4, c: colsCD4, sx: smCD4X, sy: smCD4Y, lo: smCD4Lo, hi: smCD4Hi},
  {p: ptsMacro, c: colsMacro, sx: smMacroX, sy: smMacroY, lo: smMacroLo, hi: smMacroHi},
  {p: ptsNeut, c: colsNeut, sx: smNeutX, sy: smNeutY, lo: smNeutLo, hi: smNeutHi},
  {p: ptsDend, c: colsDend, sx: smDendX, sy: smDendY, lo: smDendLo, hi: smDendHi}
];
const aGeo = [
  {x: [181.7, 482.3], y: [106, 392.7], xr: [0.019, 1.033], yr: [-30.5, 202], dt: 0.25, md: 0.125, f: '.2f'},
  {x: [494.1, 795], y: [106, 392.7], xr: [-0.023, 0.496], yr: [-30.5, 202], dt: 0.1, md: 0.05, f: '.1f'},
  {x: [808.1, 1108.9], y: [106, 392.7], xr: [-0.015, 0.727], yr: [-30.5, 202], dt: 0.2, md: 0.1, f: '.1f'},
  {x: [184, 485.1], y: [501.7, 787.3], xr: [-0.0195, 0.4395], yr: [-30.1, 200.5], dt: 0.1, md: 0.05, f: '.1f'},
  {x: [495.5, 796], y: [501.7, 787.3], xr: [-0.0166, 0.3897], yr: [-30.1, 200.5], dt: 0.1, md: 0.05, f: '.1f'},
  {x: [805.8, 1107.5], y: [501.7, 787.3], xr: [0.03, 0.359], yr: [-30.1, 200.5], dt: 0.1, md: 0.05, f: '.1f'},
  {x: [1119.6, 1420.8], y: [501.7, 787.3], xr: [0.221, 1.1625], yr: [-30.1, 200.5], dt: 0.2, md: 0.1, f: '.1f'}
];
aGeo.forEach((g, i) => {
  const n = i + 1, s = sfx(n);
  const first = (i === 0 || i === 3);
  layout['xaxis' + s] = Object.assign({domain: [X(g.x[0]), X(g.x[1])], range: g.xr, anchor: 'y' + s, zeroline: false, showline: false,
    tickformat: g.f, ticks: 'outside', ticklen: 5, tickwidth: 2.5, tickcolor: '#333', tickfont: {size: 16, color: '#4d4d4d'}},
    grid(g.dt, g.md, 3.2, 1.6));
  const ya = Object.assign({domain: [Y(g.y[1]), Y(g.y[0])], range: g.yr, zeroline: false, showline: false}, grid(50, 25, 3.2, 1.6));
  if (first) Object.assign(ya, {anchor: 'free', position: X(i === 0 ? 150 : 153.4), ticks: 'outside', ticklen: 6, tickwidth: 2.5, tickcolor: '#333', tickfont: {size: 16, color: '#4d4d4d'}});
  else Object.assign(ya, {anchor: 'x' + s, showticklabels: false, ticks: ''});
  layout['yaxis' + s] = ya;
  const set = aSets[i];
  const pts = expand(set.p, set.c);
  const common = {xaxis: 'x' + s, yaxis: 'y' + s, hoverinfo: 'skip', type: 'scatter'};
  data.push(Object.assign({mode: 'markers', x: pts.x, y: pts.y, marker: {size: 9.5, color: '#2b2b2b'}}, common));
  data.push(Object.assign({mode: 'lines', x: set.sx, y: set.lo, line: {width: 0, shape: 'spline', color: 'rgba(0,0,0,0)'}}, common));
  data.push(Object.assign({mode: 'lines', x: set.sx, y: set.hi, fill: 'tonexty', fillcolor: 'rgba(153,153,153,0.4)', line: {width: 0, shape: 'spline', color: 'rgba(0,0,0,0)'}}, common));
  data.push(Object.assign({mode: 'lines', x: set.sx, y: set.sy, line: {width: 5.5, shape: 'spline', color: '#3366FF'}}, common));
  rect(g.x[0], g.y[0], g.x[1], g.y[1], 'rgba(0,0,0,0)', '#333', 2);
  const st = g.y[0] - 31, sb = g.y[0] - 2.5;
  rect(g.x[0], st, g.x[1], sb, '#d9d9d9', '#333', 1.8);
  text((g.x[0] + g.x[1]) / 2, (st + sb) / 2, aPanelNames[i], 16.5, {color: '#1a1a1a'});
  text(g.x[1] - 4.5, g.y[0] + 14, aCorLabels[i], 20, {color: '#ff0000', xa: 'right'});
  text(g.x[1] - 4.5, g.y[0] + 34, aPLabels[i], 20, {color: '#ff0000', xa: 'right'});
});
rect(150, 106, 179, 392.7, '#d9d9d9', '#333', 1.8);
text(164.5, 249.3, 'STAD', 15, {angle: -90, color: '#1a1a1a'});
rect(153.4, 501.7, 183.1, 787.3, '#d9d9d9', '#333', 1.8);
text(168.2, 644.5, 'STAD', 15, {angle: -90, color: '#1a1a1a'});

// ---------- Panel B ----------
const nB = 8, sB = sfx(nB);
layout['xaxis' + sB] = {domain: [X(150), X(1142.4)], anchor: 'y' + sB, type: 'category', categoryorder: 'array', categoryarray: cnCats,
  range: [-0.588, 5.595], showgrid: true, gridcolor: '#ebebeb', gridwidth: 4, zeroline: false, showline: false,
  ticks: 'outside', ticklen: 7, tickwidth: 4, tickcolor: '#333', tickfont: {size: 26.5, color: '#000'}};
layout['yaxis' + sB] = Object.assign({domain: [Y(1370), Y(1020)], anchor: 'x' + sB, range: [-0.055, 1.175], zeroline: false, showline: false,
  tickformat: '.1f', ticks: 'outside', ticklen: 7, tickwidth: 4, tickcolor: '#333', tickfont: {size: 19.5, color: '#4d4d4d'}}, grid(0.3, 0.15, 4, 2.5));
const bGroups = [
  {name: cnGroups[0], pts: deepPts, q1: deepMed, med: deepMed, q3: deepMed, lo: deepMed, hi: deepMed, pc: '#0000ff', fc: 'rgba(0,0,255,0.4)', lw: 4},
  {name: cnGroups[1], pts: armDelPts, q1: armDelQ1, med: armDelMed, q3: armDelQ3, lo: armDelLo, hi: armDelHi, pc: '#add8e6', fc: 'rgba(173,216,230,0.55)', lw: 2},
  {name: cnGroups[2], pts: dipPts, q1: dipQ1, med: dipMed, q3: dipQ3, lo: dipLo, hi: dipHi, pc: '#bebebe', fc: 'rgba(190,190,190,0.55)', lw: 2},
  {name: cnGroups[3], pts: gainPts, q1: gainQ1, med: gainMed, q3: gainQ3, lo: gainLo, hi: gainHi, pc: '#ffa500', fc: 'rgba(255,165,0,0.6)', lw: 2},
  {name: cnGroups[4], pts: ampPts, q1: ampQ1, med: ampMed, q3: ampQ3, lo: ampLo, hi: ampHi, pc: '#ff0000', fc: 'rgba(255,0,0,0.35)', lw: 2}
];
bGroups.forEach(g => {
  const xs = [], ys = [];
  g.pts.forEach((arr, ci) => arr.forEach(v => { xs.push(cnCats[ci]); ys.push(v); }));
  data.push({type: 'box', x: xs, y: ys, xaxis: 'x' + sB, yaxis: 'y' + sB, offsetgroup: g.name, alignmentgroup: 'cn', boxpoints: 'all', jitter: 1, pointpos: 0,
    marker: {color: g.pc, size: 8.5}, line: {width: 0, color: 'rgba(0,0,0,0)'}, fillcolor: 'rgba(0,0,0,0)', whiskerwidth: 0, hoverinfo: 'skip'});
});
bGroups.forEach(g => {
  data.push({type: 'box', x: cnCats, q1: g.q1, median: g.med, q3: g.q3, lowerfence: g.lo, upperfence: g.hi, xaxis: 'x' + sB, yaxis: 'y' + sB,
    offsetgroup: g.name, alignmentgroup: 'cn', boxpoints: false, fillcolor: g.fc, line: {color: '#333', width: g.lw}, whiskerwidth: 0, hoverinfo: 'skip'});
});
const groupFrac = 1 - layout.boxgap;
const offsetOf = k => (-0.5 + (k + 0.5) / cnGroups.length) * groupFrac;
const yPx = py => (1354.3 - py) / 284.4; // pixel row inside panel B -> data units
[[1, armDelSig], [3, gainSig], [4, ampSig]].forEach(([k, sig]) => {
  sig.forEach((lab, ci) => {
    if (!lab) return;
    if (lab === '.') {
      ann.push({xref: 'x' + sB, yref: 'y' + sB, x: ci + offsetOf(k), y: yPx(1028), text: '.', showarrow: false,
        font: {family: FONT, size: 24, color: '#000'}, xanchor: 'center', yanchor: 'middle'});
    } else {
      ann.push({xref: 'x' + sB, yref: 'y' + sB, x: ci + offsetOf(k), y: yPx(lab.length === 1 ? 1021 : 1025.5), text: lab, showarrow: false,
        textangle: 90, xshift: -7, font: {family: FONT, size: 31, color: '#000'}, xanchor: 'center', yanchor: 'top'});
    }
  });
});
rect(150, 1020, 1142.4, 1370, 'rgba(0,0,0,0)', '#333', 3);
rect(150, 980, 1142.4, 1016, '#d9d9d9', '#333', 3);
text(646, 998, 'STAD', 19.5, {color: '#1a1a1a'});
text(1182, 1122, 'Copy Number', 34, {xa: 'left'});
const legFill = ['#9f9fff', '#e3f1f6', '#eaeaea', '#ffdc9c', '#ff9f9f'];
const legDot = ['#00007a', '#3e4f5a', '#4a4a4a', '#6e4800', '#700000'];
cnGroups.forEach((nm, k) => {
  const cy = 1211.5 + (k - 2) * 26.4;
  line(1193, cy - 11, 1193, cy + 11, '#555', 1);
  rect(1183, cy - 6.5, 1203, cy + 6.5, legFill[k], '#555', 1.2);
  line(1183, cy, 1203, cy, '#555', 1.2);
  circle(1193, cy, 3.8, legDot[k]);
  text(1218, cy, nm, 26.5, {xa: 'left'});
});

// ---------- Panel C ----------
const kmSets = [
  {lt: kmBcLowT, ls: kmBcLowS, ht: kmBcHighT, hs: kmBcHighS, lc: kmBcLowCens, hc: kmBcHighCens},
  {lt: kmCd8LowT, ls: kmCd8LowS, ht: kmCd8HighT, hs: kmCd8HighS, lc: kmCd8LowCens, hc: kmCd8HighCens},
  {lt: kmCd4LowT, ls: kmCd4LowS, ht: kmCd4HighT, hs: kmCd4HighS, lc: kmCd4LowCens, hc: kmCd4HighCens},
  {lt: kmMacLowT, ls: kmMacLowS, ht: kmMacHighT, hs: kmMacHighS, lc: kmMacLowCens, hc: kmMacHighCens},
  {lt: kmNeuLowT, ls: kmNeuLowS, ht: kmNeuHighT, hs: kmNeuHighS, lc: kmNeuLowCens, hc: kmNeuHighCens},
  {lt: kmDenLowT, ls: kmDenLowS, ht: kmDenHighT, hs: kmDenHighS, lc: kmDenLowCens, hc: kmDenHighCens},
  {lt: kmDgaLowT, ls: kmDgaLowS, ht: kmDgaHighT, hs: kmDgaHighS, lc: kmDgaLowCens, hc: kmDgaHighCens}
];
const cGeo = [
  {x: [144, 453], y: [1592.7, 1885], yr: [0.202, 1.037]},
  {x: [463.9, 773.2], y: [1592.7, 1885], yr: [0.1455, 1.038]},
  {x: [784.9, 1094], y: [1592.7, 1885], yr: [0.236, 1.034]},
  {x: [144, 453], y: [1971.7, 2264.3], yr: [0.226, 1.062]},
  {x: [463.9, 773.2], y: [1971.7, 2264.3], yr: [0.19, 1.037]},
  {x: [784.9, 1094.5], y: [1971.7, 2264.3], yr: [0.2847, 1.032]},
  {x: [1107.5, 1416.7], y: [1971.7, 2264.3], yr: [0.202, 1.038]}
];
function stepAt(ts, ss, t) { let v = ss[0]; for (let i = 0; i < ts.length; i++) { if (ts[i] <= t) v = ss[i]; else break; } return v; }
cGeo.forEach((g, i) => {
  const n = 9 + i, s = sfx(n);
  const leftCol = (i === 0 || i === 3);
  layout['xaxis' + s] = Object.assign({domain: [X(g.x[0]), X(g.x[1])], range: [-5.8, 129.7], anchor: 'y' + s, zeroline: false, showline: false,
    ticks: 'outside', ticklen: 5, tickwidth: 2.2, tickcolor: '#333', tickfont: {size: 15.5, color: '#4d4d4d'}}, grid(40, 20, 3.2, 1.6));
  const ya = Object.assign({domain: [Y(g.y[1]), Y(g.y[0])], range: g.yr, anchor: 'x' + s, zeroline: false, showline: false, tickformat: '.1f'}, grid(0.2, 0.1, 3.2, 1.6));
  if (leftCol) Object.assign(ya, {ticks: 'outside', ticklen: 5, tickwidth: 2.2, tickcolor: '#333', tickfont: {size: 15.5, color: '#4d4d4d'}});
  else Object.assign(ya, {showticklabels: false, ticks: ''});
  layout['yaxis' + s] = ya;
  const k = kmSets[i];
  const common = {type: 'scatter', xaxis: 'x' + s, yaxis: 'y' + s, hoverinfo: 'skip'};
  data.push(Object.assign({mode: 'lines', x: k.lt, y: k.ls, line: {color: '#0000ff', width: 4.2, shape: 'hv'}}, common));
  data.push(Object.assign({mode: 'lines', x: k.ht, y: k.hs, line: {color: '#ff0000', width: 4.2, shape: 'hv'}}, common));
  const cens = (times, ts, ss) => ({x: times, y: times.map(t => stepAt(ts, ss, t))});
  const cl = cens(k.lc, k.lt, k.ls), ch = cens(k.hc, k.ht, k.hs);
  const cm = {symbol: 'cross-thin', size: 14, line: {width: 3, color: '#666666'}};
  data.push(Object.assign({mode: 'markers', x: cl.x, y: cl.y, marker: cm}, common));
  data.push(Object.assign({mode: 'markers', x: ch.x, y: ch.y, marker: cm}, common));
  rect(g.x[0], g.y[0], g.x[1], g.y[1], 'rgba(0,0,0,0)', '#333', 2);
  const st = g.y[0] - 31.5, sb = g.y[0] - 1;
  rect(g.x[0], st, g.x[1], sb, '#d9d9d9', 'rgba(0,0,0,0)', 0);
  text((g.x[0] + g.x[1]) / 2, (st + sb) / 2, kmNames[i], 16, {color: '#1a1a1a'});
  text(g.x[1] - 16, g.y[0] + 13.3, 'Log−rank P = ' + kmPLabels[i], 19.5, {xa: 'right'});
});
rect(1096, 1591.7, 1125, 1885, '#d9d9d9', 'rgba(0,0,0,0)', 0);
text(1110.5, 1738, 'STAD', 15, {angle: 90, color: '#1a1a1a'});
rect(1418, 1971, 1446, 2264.3, '#d9d9d9', 'rgba(0,0,0,0)', 0);
text(1432, 2118, 'STAD', 15, {angle: 90, color: '#1a1a1a'});
text(1188, 1670, 'Level', 41, {xa: 'left'});
line(1190, 1716.7, 1219, 1716.7, '#0000ff', 4.5);
text(1236, 1716.7, 'Low (Bottom 50%)', 26.6, {xa: 'left'});
line(1190, 1754, 1219, 1754, '#ff0000', 4.5);
text(1236, 1754, 'High (Top 50%)', 26.6, {xa: 'left'});

// ---------- titles ----------
text(2, 30, 'A', 54, {xa: 'left'});
text(2, 926, 'B', 54, {xa: 'left'});
text(2, 1500, 'C', 54, {xa: 'left'});
text(56, 423, 'DGAT1 Expression Level (log2 TPM)', 42, {angle: -90});
text(832, 846.5, 'Infiltration Level', 45);
text(81, 1162, 'Infiltration Level', 45, {angle: -90});
text(47, 1890, 'Cumulative Survival', 46, {angle: -90});
text(810, 2336, 'Time to Follow−Up (months)', 42.3);

Plotly.newPlot('chart', data, layout, {staticPlot: true, displayModeBar: false});
</script>
</body>
</html>
